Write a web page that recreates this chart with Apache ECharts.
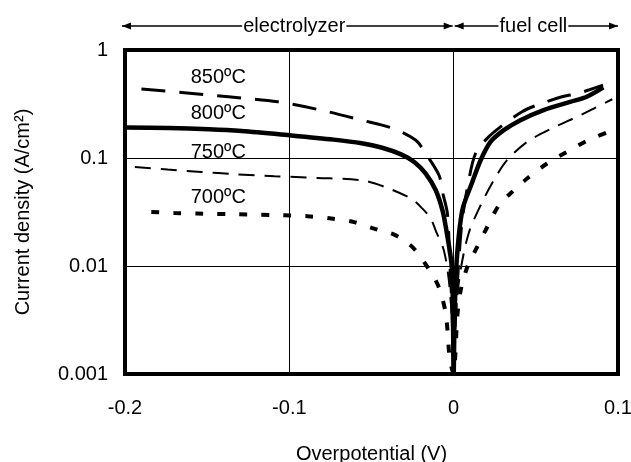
<!DOCTYPE html>
<html><head><meta charset="utf-8">
<script src="https://cdn.jsdelivr.net/npm/echarts@6/dist/echarts.min.js"></script>
<style>html,body{margin:0;padding:0;background:#fff}#c{width:631px;height:462px}</style>
</head><body><div id="c"></div>
<script>
// ---- data ----
const xTickLabels = ['-0.2', '-0.1', '0', '0.1'];
const yTickLabels = ['0.001', '0.01', '0.1', '1'];
const seriesNames = ['850ºC', '800ºC', '750ºC', '700ºC'];
const regionNames = ['electrolyzer', 'fuel cell'];

// overpotential (V) and current density (A/cm2) for each temperature
const v850 = [-0.19, -0.164, -0.137, -0.107, -0.081, -0.056, -0.037, -0.023, -0.017, -0.0089, -0.0068, -0.0038, -0.0025, -0.001, 0,
  0.0005, 0.002, 0.005, 0.009, 0.0133, 0.0204, 0.0285, 0.0416, 0.0507, 0.0659, 0.0758, 0.0909];
const j850 = [0.435, 0.402, 0.369, 0.331, 0.278, 0.224, 0.188, 0.146, 0.110, 0.0692, 0.0485, 0.0306, 0.012, 0.004, 0.001,
  0.002, 0.006, 0.025, 0.06, 0.110, 0.152, 0.194, 0.268, 0.309, 0.369, 0.397, 0.473];

const v800 = [-0.2, -0.1735, -0.149, -0.129, -0.101, -0.073, -0.056, -0.044, -0.032, -0.024, -0.017, -0.0109, -0.0068, -0.0048, -0.0012, -0.0004, 0,
  0.0005, 0.0018, 0.0053, 0.011, 0.0164, 0.0224, 0.0305, 0.0406, 0.0547, 0.0709, 0.081, 0.0911];
const j800 = [0.192, 0.190, 0.185, 0.178, 0.163, 0.148, 0.137, 0.125, 0.108, 0.092, 0.0718, 0.0503, 0.0328, 0.023, 0.01, 0.003, 0.001,
  0.003, 0.011, 0.033, 0.058, 0.0954, 0.141, 0.181, 0.224, 0.278, 0.331, 0.369, 0.45];

const v750 = [-0.194, -0.174, -0.1535, -0.133, -0.109, -0.083, -0.056, -0.042, -0.026, -0.019, -0.0139, -0.011, -0.006, -0.003, -0.001, 0,
  0.0015, 0.0042, 0.0091, 0.0164, 0.0244, 0.0325, 0.0447, 0.0598, 0.077, 0.0965];
const j750 = [0.0827, 0.0782, 0.0743, 0.0708, 0.0678, 0.0654, 0.0622, 0.054, 0.0421, 0.034, 0.0275, 0.0214, 0.014, 0.0075, 0.003, 0.001,
  0.004, 0.0091, 0.020, 0.0365, 0.0622, 0.0954, 0.141, 0.188, 0.249, 0.35];

const v700 = [-0.184, -0.170, -0.156, -0.131, -0.103, -0.089, -0.0745, -0.0606, -0.0485, -0.0352, -0.0242, -0.0152, -0.0091, -0.0048, -0.0024, 0,
  0.001, 0.0022, 0.0042, 0.0083, 0.0133, 0.0194, 0.0275, 0.0345, 0.0447, 0.0568, 0.0689, 0.081, 0.0952];
const j700 = [0.0316, 0.031, 0.0306, 0.0301, 0.0295, 0.0289, 0.0275, 0.0255, 0.0222, 0.0192, 0.0145, 0.0094, 0.0064, 0.0036, 0.0014, 0.001,
  0.0015, 0.0034, 0.0059, 0.0098, 0.014, 0.0214, 0.0365, 0.0469, 0.0645, 0.0889, 0.114, 0.144, 0.177];

// label anchors in data coordinates (overpotential, current density)
const labelV = [-0.16, -0.16, -0.16, -0.16];
const labelJ = [0.562, 0.26, 0.113, 0.0433];

// ---- chart ----
const FONT = "'Liberation Sans', Arial, sans-serif";
const pairs = (xs, ys) => xs.map((x, i) => [x, ys[i]]);
const chart = echarts.init(document.getElementById('c'), null, {renderer: 'canvas'});

const styles = [
  {width: 3, type: [24, 14]},
  {width: 4.5, type: 'solid'},
  {width: 2, type: [16, 10]},
  {width: 4, type: [8, 14]}
];
const datas = [pairs(v850, j850), pairs(v800, j800), pairs(v750, j750), pairs(v700, j700)];

const option = {
  animation: false,
  backgroundColor: '#fff',
  grid: {left: 125, right: 13, top: 50, bottom: 88, show: true, borderColor: '#000', borderWidth: 4,
    backgroundColor: 'transparent', containLabel: false, outerBoundsMode: 'none'},
  xAxis: {
    type: 'value', min: -0.2, max: 0.1, interval: 0.1,
    name: 'Overpotential (V)', nameLocation: 'middle', nameGap: 70,
    nameTextStyle: {color: '#000', fontFamily: FONT, fontSize: 20},
    axisLine: {show: false}, axisTick: {show: false},
    axisLabel: {color: '#000', fontFamily: FONT, fontSize: 20, margin: 24,
      formatter: v => xTickLabels[Math.round((v + 0.2) / 0.1)]},
    splitLine: {show: true, lineStyle: {color: '#000', width: 1}}
  },
  yAxis: {
    type: 'log', logBase: 10, min: 0.001, max: 1,
    name: 'Current density (A/cm²)', nameLocation: 'middle', nameGap: 92,
    nameTextStyle: {color: '#000', fontFamily: FONT, fontSize: 20},
    axisLine: {show: false}, axisTick: {show: false},
    axisLabel: {color: '#000', fontFamily: FONT, fontSize: 20, margin: 17,
      formatter: v => yTickLabels[Math.round(Math.log10(v)) + 3]},
    splitLine: {show: true, lineStyle: {color: '#000', width: 1}}
  },
  series: datas.map((d, i) => ({
    type: 'line', name: seriesNames[i], data: d, showSymbol: false, symbol: 'none',
    smooth: 0.3, clip: true,
    lineStyle: {color: '#000', width: styles[i].width, type: styles[i].type, cap: 'butt'},
    z: 3
  }))
};
chart.setOption(option);

function px(v, j) { return chart.convertToPixel({gridIndex: 0}, [v, j]); }
const gTop = px(0, 1)[1];
const ay = gTop - 24;
const xL = px(-0.2, 1)[0] - 3, xM = px(0, 1)[0], xR = px(0.1, 1)[0];
const AH = 9, AW = 3.5;
function arrowHead(tipX, dir) {
  return {type: 'polygon', shape: {points: [[tipX, ay], [tipX - dir * AH, ay - AW], [tipX - dir * AH, ay + AW]]},
    style: {fill: '#000'}, z: 10};
}
function hline(x1, x2) {
  return {type: 'line', shape: {x1: x1, y1: ay, x2: x2, y2: ay}, style: {stroke: '#000', lineWidth: 1.5}, z: 10};
}
const graphics = [
  hline(xL, xM - 1), hline(xM + 1, xR),
  arrowHead(xL, -1), arrowHead(xM - 1, 1), arrowHead(xM + 1, -1), arrowHead(xR, 1),
  {type: 'text', x: px(-0.097, 1)[0], y: ay, z: 11,
    style: {text: regionNames[0], fill: '#000', font: '20px ' + FONT, align: 'center', verticalAlign: 'middle',
      backgroundColor: '#fff', padding: [0, 1]}},
  {type: 'text', x: px(0.0485, 1)[0], y: ay, z: 11,
    style: {text: regionNames[1], fill: '#000', font: '20px ' + FONT, align: 'center', verticalAlign: 'middle',
      backgroundColor: '#fff', padding: [0, 1]}}
];
seriesNames.forEach((n, i) => {
  const p = px(labelV[i], labelJ[i]);
  graphics.push({type: 'text', x: p[0], y: p[1], z: 11,
    style: {text: n, fill: '#000', font: '20px ' + FONT, align: 'left', verticalAlign: 'middle'}});
});
chart.setOption({graphic: graphics});
</script>
</body></html>
